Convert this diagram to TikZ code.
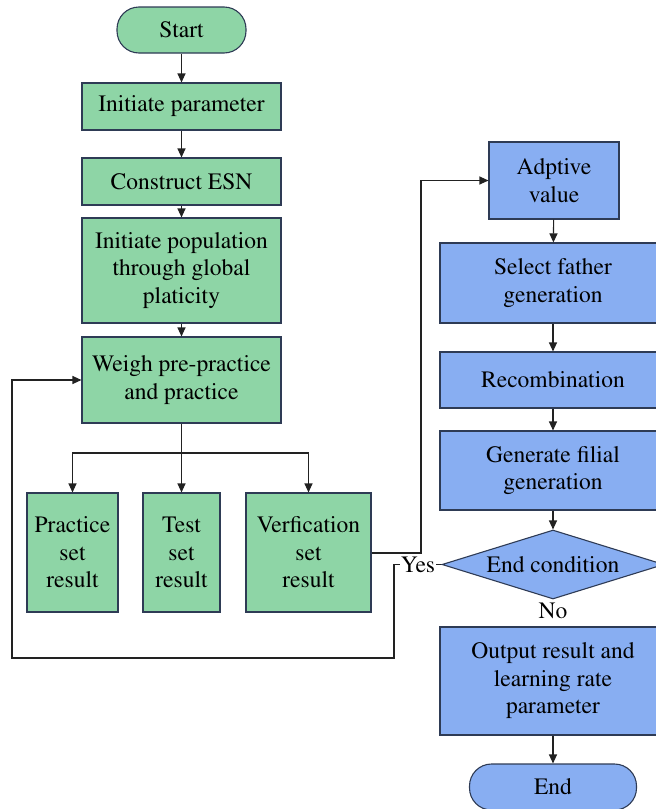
\documentclass[tikz,border=0pt]{standalone}
\usepackage[T1]{fontenc}
\usepackage{times}
\usetikzlibrary{arrows.meta,shapes.geometric}
\definecolor{gfill}{HTML}{8ED5A6}
\definecolor{bfill}{HTML}{88AEF2}
\definecolor{edge}{HTML}{2E3B55}
\definecolor{wire}{HTML}{222222}
\tikzset{
  box/.style={draw=edge, line width=1.1pt, rectangle, align=center, inner sep=2pt,
    font=\rmfamily\fontsize{23.5}{27.5}\selectfont},
  gbox/.style={box, fill=gfill},
  bbox/.style={box, fill=bfill},
  term/.style={rounded corners=22pt},
  flow/.style={draw=wire, line width=1.1pt, -{Triangle[length=9pt,width=8pt]}},
  wireline/.style={draw=wire, line width=1.1pt},
  lbl/.style={font=\rmfamily\fontsize{23.5}{27.5}\selectfont, inner sep=1pt}
}
\begin{document}
\begin{tikzpicture}[x=1pt,y=-1pt]
\useasboundingbox (0,0) rectangle (656,809);

% left column
\node[gbox,term,minimum width=129pt,minimum height=46pt] (start) at (181.5,30) {Start};
\node[gbox,minimum width=199pt,minimum height=47pt] (init) at (181.5,106.5) {Initiate parameter};
\node[gbox,minimum width=199pt,minimum height=47pt] (esn) at (181.5,181.5) {Construct ESN};
\node[gbox,minimum width=199pt,minimum height=105pt] (pop) at (181.5,270.5) {Initiate population\\through global\\platicity};
\node[gbox,minimum width=199pt,minimum height=86pt] (weigh) at (181.5,380) {Weigh pre-practice\\and practice};

% result boxes
\node[gbox,minimum width=91pt,minimum height=119pt] (prac) at (72.5,552.5) {Practice\\set\\result};
\node[gbox,minimum width=77pt,minimum height=119pt] (test) at (181.5,552.5) {Test\\set\\result};
\node[gbox,minimum width=125pt,minimum height=119pt] (verf) at (308.5,552.5) {Verfication\\set\\result};

% right column
\node[bbox,minimum width=130pt,minimum height=77pt] (fit) at (554,180.5) {Adptive\\value};
\node[bbox,minimum width=226pt,minimum height=80pt] (sel) at (553,283) {Select father\\generation};
\node[bbox,minimum width=226pt,minimum height=56pt] (rec) at (553,380) {Recombination};
\node[bbox,minimum width=226pt,minimum height=79pt] (gen) at (553,470.5) {Generate filial\\generation};
\node[bbox,diamond,aspect=3.2,inner sep=0pt,minimum width=222pt,minimum height=69pt] (cond) at (553,564.5) {End condition};
\node[bbox,minimum width=226pt,minimum height=108pt] (out) at (553,681) {Output result and\\learning rate\\parameter};
\node[bbox,term,minimum width=167pt,minimum height=46pt] (end) at (553,787) {End};

% main flow
\draw[flow] (start) -- (init);
\draw[flow] (init) -- (esn);
\draw[flow] (esn) -- (pop);
\draw[flow] (pop) -- (weigh);
\coordinate (split) at (181.5,453);
\draw[wireline] (weigh.south) -- (split);
\draw[flow] (split) -| (prac.north);
\draw[flow] (split) -- (test.north);
\draw[flow] (split) -| (verf.north);

\draw[flow] (fit) -- (sel);
\draw[flow] (sel) -- (rec);
\draw[flow] (rec) -- (gen);
\draw[flow] (gen) -- (cond);
\draw[flow] (out) -- (end);

% loops
\coordinate (up) at (421,553);
\draw[flow] (verf.east |- up) -- (up) |- (fit.west);
\coordinate (back1) at (394,564.5);
\coordinate (back2) at (394,658);
\coordinate (back3) at (12,658);
\draw[flow] (cond.west) -- (back1) -- (back2) -- (back3) |- (weigh.west);

% branch labels
\node[lbl,fill=white] (yes) at (418,565) {Yes};
\node[lbl] (no) at (553,611) {No};
\end{tikzpicture}
\end{document}
